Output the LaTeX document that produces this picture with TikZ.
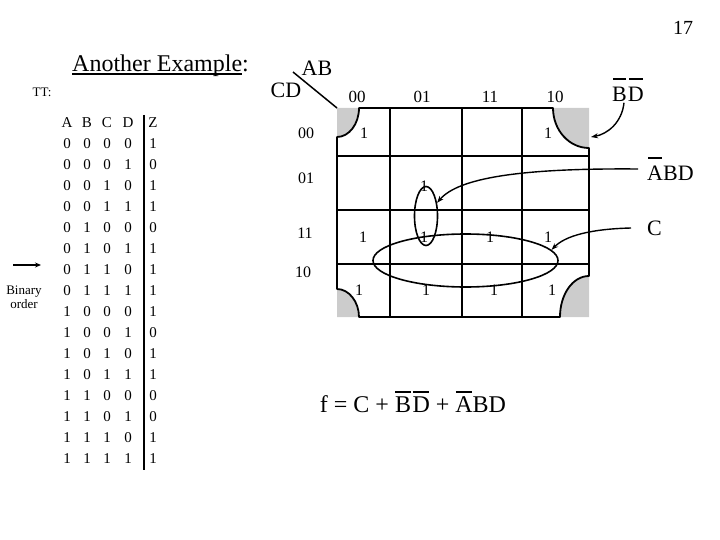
\documentclass[tikz,border=0pt]{standalone}
\usepackage{fontspec}
\setmainfont{Liberation Serif}
\usetikzlibrary{arrows.meta,shapes.geometric}
\definecolor{cellgrey}{RGB}{204,204,204}
% bar over a letter: formula style (full width, close) and label style (shorter, higher)
\newcommand\ovlf[1]{\setbox0=\hbox{#1}\rlap{\hbox to\wd0{\hss\raisebox{0.80em}{\rule{0.95\wd0}{0.075em}}\hss}}\box0\relax}
\newcommand\ovlh[1]{\setbox0=\hbox{#1}\rlap{\hbox to\wd0{\hss\raisebox{0.97em}{\rule{0.85\wd0}{0.075em}}\hss}}\box0\relax}
\newcommand\ulin[1]{\setbox0=\hbox{#1}\rlap{\raisebox{-0.11em}{\rule{\wd0}{0.06em}}}\box0\relax}
\newcommand\fsz[1]{\fontsize{#1}{#1}\selectfont}
\begin{document}
\begin{tikzpicture}[x=1pt,y=-1pt,
  ttcell/.style={inner sep=0pt, font=\fsz{15}},
  one/.style={inner sep=0pt, font=\fsz{16}},
  hdr/.style={inner sep=0pt, font=\fsz{17}},
  rowhdr/.style={inner sep=0pt, font=\fsz{16}},
  big/.style={inner sep=1pt, font=\fsz{22}},
  gridline/.style={line width=1.8pt},
  conn/.style={line width=1.4pt, -{Stealth[length=7pt,width=5pt]}},
  grp/.style={draw, ellipse, line width=1.6pt, inner sep=0pt},
]
\useasboundingbox (0,0) rectangle (720,540);

% page number and titles
\node[font=\fsz{20}] (pagenum) at (683,28) {17};
\node[font=\fsz{24}, inner sep=0pt, anchor=base west] (title) at (72,72) {\ulin{Another Example}:};
\node[font=\fsz{13}, inner sep=0pt] (tt) at (42,92) {TT:};

% truth table
\foreach \h/\x [count=\k] in {A/67,B/87,C/107,D/128,Z/153}
  \node[ttcell] (th\k) at (\x,123) {\h};
\foreach \va/\vb/\vc/\vd/\vz [count=\r] in {0/0/0/0/1,0/0/0/1/0,0/0/1/0/1,0/0/1/1/1,
  0/1/0/0/0,0/1/0/1/1,0/1/1/0/1,0/1/1/1/1,1/0/0/0/1,1/0/0/1/0,1/0/1/0/1,1/0/1/1/1,
  1/1/0/0/0,1/1/0/1/0,1/1/1/0/1,1/1/1/1/1}{
  \pgfmathsetmacro\yy{144+21*(\r-1)}
  \node[ttcell] (ta\r) at (67,\yy) {\va};
  \node[ttcell] (tb\r) at (87,\yy) {\vb};
  \node[ttcell] (tc\r) at (107,\yy) {\vc};
  \node[ttcell] (td\r) at (128,\yy) {\vd};
  \node[ttcell] (tz\r) at (153,\yy) {\vz};
}
\coordinate (vtop) at (144,115);
\coordinate (vbot) at (144,470);
\draw[gridline] (vtop) -- (vbot);

\node[font={\fontsize{13}{14}\selectfont}, align=center, inner sep=0pt] (bin) at (24,297) {Binary\\order};
\coordinate (arrs) at (13,265);
\coordinate (arre) at (41,265);
\draw[line width=1.5pt, -{Stealth[length=6pt,width=5pt]}] (arrs) -- (arre);

% K-map grey corners
\fill[cellgrey] (337,108) -- (359,108) .. controls (359,124) and (349,137) .. (337,137) -- cycle;
\fill[cellgrey] (589,108) -- (553,108) .. controls (553,130) and (569,148) .. (589,148) -- cycle;
\fill[cellgrey] (337,317) -- (337,289) .. controls (349,289) and (359,302) .. (359,317) -- cycle;
\fill[cellgrey] (589,317) -- (589,276) .. controls (573,276) and (560,294) .. (560,317) -- cycle;

% grid
\foreach \x in {390,462,522} \draw[gridline] (\x,108) -- (\x,317);
\foreach \y in {156,210,264} \draw[gridline] (337,\y) -- (589,\y);
\draw[gridline, line join=round] (359,108) -- (553,108) .. controls (553,130) and (569,148) .. (589,148)
  -- (589,276) .. controls (573,276) and (560,294) .. (560,317)
  -- (359,317) .. controls (359,302) and (349,289) .. (337,289)
  -- (337,137) .. controls (349,137) and (359,124) .. (359,108) -- cycle;

% corner labels
\node[big] (ab) at (317,68) {AB};
\node[big] (cd) at (286,90) {CD};
\coordinate (diagS) at (293,72);
\coordinate (diagE) at (337,108);
\draw[line width=1.5pt] (diagS) -- (diagE);

% column / row headers
\foreach \t/\x [count=\k] in {00/357,01/422,11/490,10/555}
  \node[hdr] (col\k) at (\x,97) {\t};
\foreach \t/\x/\y [count=\k] in {00/306/133,01/306/178,11/305/233,10/303/272}
  \node[rowhdr] (row\k) at (\x,\y) {\t};

% groups
\node[grp, minimum width=23pt, minimum height=59pt] (e1) at (426,216) {};
\node[grp, minimum width=185pt, minimum height=53pt] (e2) at (465.5,260.5) {};

% ones
\foreach \x/\y [count=\k] in {364/133,548/133,424/186,363/237,424/237,490/237,548/237,359/290,426/290,494/290,552/290}
  \node[one] (one\k) at (\x,\y) {1};

% term labels and arrows
\node[big] (bd) at (628,90) {\ovlh{B}\kern1pt\ovlh{D}};
\coordinate (trc) at (591,137);
\draw[conn] ([xshift=-4pt]bd.south) .. controls (622,122) and (608,134) .. (trc);

\node[big, anchor=west] (abd) at (646,169) {\ovlh{A}BD};
\draw[conn] ([xshift=-8pt]abd.west) .. controls (520,168) and (458,178) .. (e1.50);

\node[big, anchor=west] (cc) at (646,228) {C};
\draw[conn] ([xshift=-15pt]cc.west) .. controls (590,229) and (565,236) .. (e2.7);

% formula
\node[font=\fsz{24}, inner sep=0pt] (fx) at (413,402) {f = C + \ovlf{B}\kern1.5pt\ovlf{D} + \ovlf{A}BD};
\end{tikzpicture}
\end{document}
